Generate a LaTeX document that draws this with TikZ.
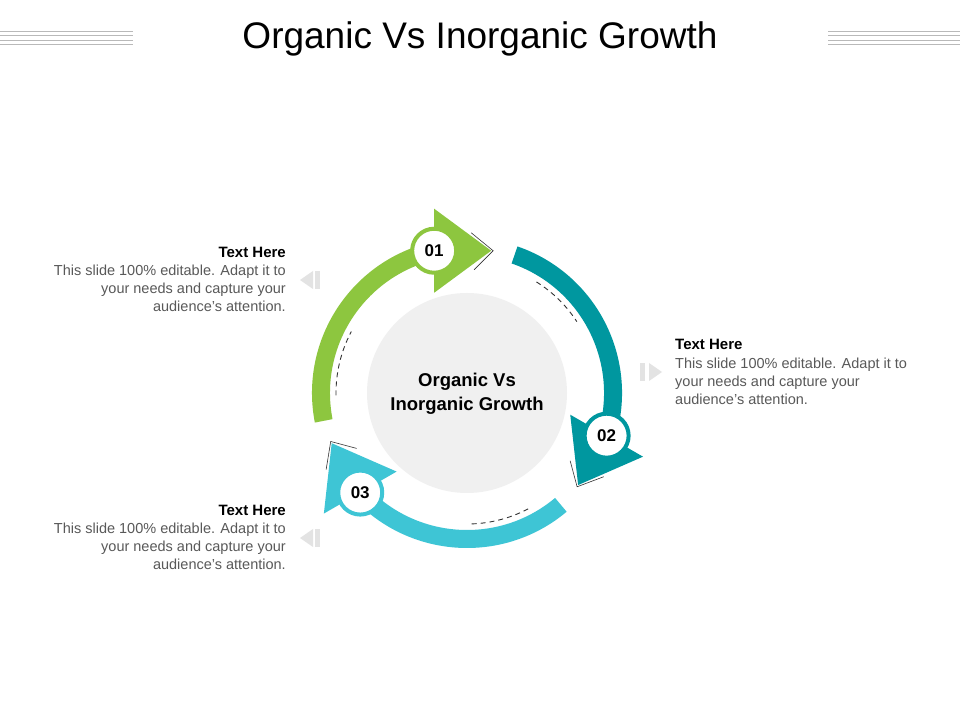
\documentclass[tikz,border=0pt]{standalone}
\usepackage{fontspec}
\setmainfont{Liberation Sans}
\usetikzlibrary{calc}
\definecolor{cgreen}{HTML}{8DC63F}
\definecolor{cteal}{HTML}{00979F}
\definecolor{ccyan}{HTML}{3EC5D5}
\definecolor{txtgray}{HTML}{595959}
\begin{document}
\begin{tikzpicture}[x=1pt,y=1pt,
  numc/.style={circle,fill=white,draw=#1,line width=4pt,minimum size=44pt,inner sep=0pt,font=\fontsize{17}{17}\selectfont\bfseries},
  head/.style={font=\fontsize{15}{18}\selectfont\bfseries},
  body/.style={font=\fontsize{14.5}{17.8}\selectfont,text=txtgray,inner sep=0pt},
  hint/.style={fill=gray!22}]
\useasboundingbox (0,0) rectangle (960,720);
\fill[white] (0,0) rectangle (960,720);
% header lines
\foreach \yy in {31,35,40,44}{
  \draw[gray!55,line width=0.8pt] (0,720-\yy) -- (133,720-\yy);
  \draw[gray!55,line width=0.8pt] (828,720-\yy) -- (960,720-\yy);
}
\node[font=\fontsize{37}{37}\selectfont] (title) at (480,720-39) {Organic Vs Inorganic Growth};
% center
\coordinate (c) at (467,327);
\fill[gray!12] (c) circle (100);
\node[align=center,font=\fontsize{18.5}{24}\selectfont\bfseries] (ctext) at (467,326) {Organic Vs\\Inorganic Growth};
% arcs and arrows
\foreach \a/\b/\col/\num/\nm in {191/103/cgreen/01/n1, 71/-17/cteal/02/n2, -50/-137/ccyan/03/n3}{
  \begin{scope}[shift={(c)}]
    \fill[\col] (\a:155) arc[start angle=\a,end angle=\b,radius=155] -- (\b:137) arc[start angle=\b,end angle=\a,radius=137] -- cycle;
  \end{scope}
  \begin{scope}[shift={($(c)+(\b:146)$)},rotate=\b-103]
    \fill[\col] (0,-42) -- (0,42) -- (57,0) -- cycle;
    \draw[black!80,line width=0.6pt] (37,18) -- (59,0) -- (40,-19);
  \end{scope}
  \node[numc=\col] (\nm) at ($(c)+(\b:146)$) {\num};
}
% dashed arcs
\begin{scope}[shift={(c)}]
  \draw[black!80,line width=0.9pt,dash pattern=on 5pt off 4pt] (181:131) arc[start angle=181,end angle=152,radius=131];
  \draw[black!80,line width=0.9pt,dash pattern=on 5pt off 4pt] (58:131) arc[start angle=58,end angle=33,radius=131];
  \draw[black!80,line width=0.9pt,dash pattern=on 5pt off 4pt] (-88:131) arc[start angle=-88,end angle=-62,radius=131];
\end{scope}
% hint arrows
\fill[hint] (300,720-280) -- (313,720-271) -- (313,720-289) -- cycle;
\fill[hint] (315,720-289) rectangle (320,720-271);
\fill[hint] (300,720-538) -- (313,720-529) -- (313,720-547) -- cycle;
\fill[hint] (315,720-547) rectangle (320,720-529);
\fill[hint] (662,720-372) -- (649,720-363) -- (649,720-381) -- cycle;
\fill[hint] (640,720-381) rectangle (645,720-363);
% texts
\node[head,anchor=east,inner sep=0pt] (h1) at (286,720-252) {Text Here};
\node[body,anchor=north east,align=right] (b1) at (286,720-265) {This slide 100\% editable. Adapt it to\\your needs and capture your\\audience’s attention.};
\node[head,anchor=west,inner sep=0pt] (h2) at (675,720-344) {Text Here};
\node[body,anchor=north west,align=left] (b2) at (675,720-358) {This slide 100\% editable. Adapt it to\\your needs and capture your\\audience’s attention.};
\node[head,anchor=east,inner sep=0pt] (h3) at (286,720-510) {Text Here};
\node[body,anchor=north east,align=right] (b3) at (286,720-523) {This slide 100\% editable. Adapt it to\\your needs and capture your\\audience’s attention.};
\end{tikzpicture}
\end{document}
